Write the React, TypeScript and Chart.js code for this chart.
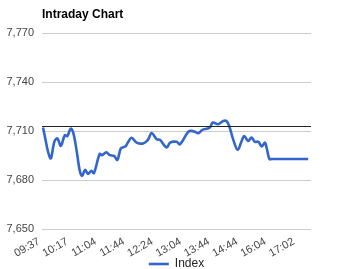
import React, { useEffect, useRef } from "react";
import { Chart, registerables } from "chart.js";

Chart.register(...registerables);

const chartTitle = "Intraday Chart";
const seriesName = "Index";
const tickLabels = ["09:37", "10:17", "11:04", "11:44", "12:24", "13:04", "13:44", "14:44", "16:04", "17:02"];
const tickStep = 10;
const pointIndex = [
  0, 2.6, 4.1, 5.1, 6.3, 7.7, 8.6, 9.8, 10.7, 11.8, 13.0, 13.8, 14.9, 15.9, 17.1, 18.0, 20.0, 20.8, 22.4, 23.6,
  25.1, 26.3, 27.5, 29.1, 30.0, 31.3, 33.1, 35.4, 37.0, 38.4, 40.2, 41.3, 43.7, 44.9, 47.2, 48.4, 51.3, 52.5,
  53.7, 54.9, 56.3, 58.2, 59.0, 60.0, 61.9, 63.7, 64.9, 65.8, 67.2, 68.8, 70.2, 71.1, 72.5, 73.7, 74.9, 76.1,
  77.3, 78.4, 79.0, 80.0, 80.8, 93.7,
];
const indexValues = [
  7712.3, 7693.3, 7704, 7705.5, 7701, 7707.5, 7707, 7711.6, 7709, 7699, 7685.7, 7682.6, 7686.3, 7683.7, 7685.7,
  7684.3, 7696, 7695.3, 7697, 7695.3, 7694.9, 7692.4, 7699.4, 7700.6, 7703, 7706, 7703, 7702.5, 7704.5, 7708.8,
  7705, 7704.7, 7700, 7703, 7703.5, 7702, 7709.6, 7710.2, 7709.6, 7708.8, 7710.8, 7711.6, 7712.3, 7715.3, 7714.3,
  7716.3, 7716.1, 7713.2, 7705, 7698.6, 7704, 7707.1, 7704, 7706.1, 7703.5, 7703.5, 7700.6, 7703, 7700, 7692.9,
  7692.9, 7692.9,
];
const referenceValue = 7713;
const yMin = 7650;
const yMax = 7770;
const yStep = 30;
const xMin = -0.35;
const xMax = 94.7;

const FONT = "Arial, 'Liberation Sans', sans-serif";

export default function App() {
  const ref = useRef<HTMLCanvasElement>(null);
  useEffect(() => {
    if (!ref.current) return;
    const refLine = {
      id: "refLine",
      afterDatasetsDraw(chart: any) {
        const { ctx, chartArea } = chart;
        const y = Math.round(chart.scales.y.getPixelForValue(referenceValue)) + 0.5;
        ctx.save();
        ctx.strokeStyle = "#222";
        ctx.lineWidth = 1;
        ctx.beginPath();
        ctx.moveTo(chartArea.left, y);
        ctx.lineTo(chartArea.right, y);
        ctx.stroke();
        ctx.restore();
      },
    };
    const chart = new Chart(ref.current, {
      type: "line",
      data: {
        datasets: [
          {
            label: seriesName,
            data: pointIndex.map((x, i) => ({ x, y: indexValues[i] })),
            borderColor: "#3366cc",
            backgroundColor: "#3366cc",
            borderWidth: 2.6,
            pointRadius: 0,
            tension: 0.35,
            pointStyle: "line",
          },
        ],
      },
      options: {
        animation: false,
        responsive: false,
        layout: { padding: { left: 0, right: 38, top: 0, bottom: 0 } },
        plugins: {
          title: {
            display: true,
            text: chartTitle,
            align: "start",
            fullSize: false,
            color: "#000",
            font: { family: FONT, size: 12, weight: "bold" },
            padding: { top: 7, bottom: 12 },
          },
          legend: {
            position: "bottom",
            fullSize: false,
            maxHeight: 12,
            labels: {
              usePointStyle: true,
              pointStyle: "line",
              pointStyleWidth: 20,
              color: "#222",
              font: { family: FONT, size: 12 },
              padding: 1,
            },
          },
          tooltip: { enabled: false },
        },
        scales: {
          x: {
            type: "linear",
            min: xMin,
            max: xMax,
            grid: { display: false, drawTicks: true, tickLength: 6 },
            border: { display: false },
            afterBuildTicks: (scale: any) => {
              scale.ticks = tickLabels.map((_, i) => ({ value: i * tickStep }));
            },
            afterFit: (scale: any) => {
              scale.height = 28;
            },
            ticks: {
              autoSkip: false,
              minRotation: 30,
              maxRotation: 30,
              color: "#444",
              padding: 0,
              labelOffset: -4,
              font: { family: FONT, size: 11 },
              callback: (v: any) => tickLabels[Math.round(Number(v) / tickStep)] ?? "",
            },
          },
          y: {
            min: yMin,
            max: yMax,
            afterFit: (scale: any) => {
              scale.width = 42;
            },
            grid: { color: "#cccccc", drawTicks: false },
            border: { display: false },
            ticks: {
              stepSize: yStep,
              color: "#444",
              padding: 8,
              font: { family: FONT, size: 11 },
              callback: (v: any) => Number(v).toLocaleString("en-US"),
            },
          },
        },
      },
      plugins: [refLine],
    });
    return () => chart.destroy();
  }, []);
  return (
    <div style={{ position: "fixed", left: 0, top: 0, width: 349, height: 269, background: "#fff" }}>
      <canvas ref={ref} width={349} height={269} />
    </div>
  );
}
